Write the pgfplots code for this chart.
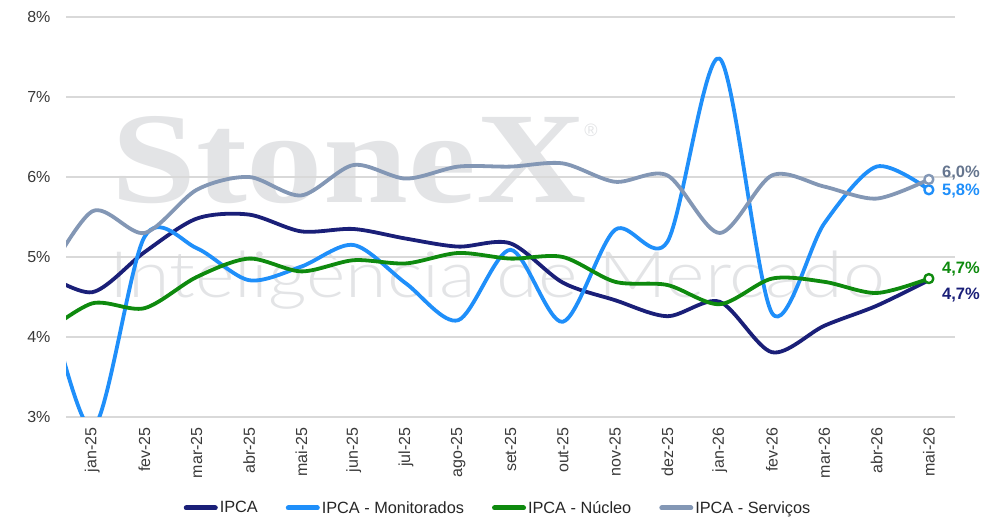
\documentclass[border=0pt]{standalone}
\usepackage{fontspec}
\setmainfont{Liberation Sans}
\newfontfamily\wmserif{Liberation Serif}
\newfontfamily\wmlight{Lato Light}
\usepackage{pgfplots}
\pgfplotsset{compat=1.18}
\definecolor{cIPCA}{HTML}{1A1F78}
\definecolor{cMon}{HTML}{1F8FFA}
\definecolor{cNuc}{HTML}{0E8A0E}
\definecolor{cSer}{HTML}{8397B5}
\definecolor{cSerLbl}{HTML}{66768F}
\definecolor{gridc}{HTML}{D9D9D9}
\definecolor{tickc}{HTML}{3A3A3A}
\definecolor{wm}{HTML}{E3E4E6}
\begin{document}
\begin{tikzpicture}
\useasboundingbox (0pt,0pt) rectangle (989pt,532pt);
\node[anchor=base west, inner sep=0, text=wm, font=\wmserif\bfseries\fontsize{130}{130}\selectfont] at (111pt,329pt) {\scalebox{1.175}[1]{StoneX}};
\node[anchor=center, inner sep=0, text=wm, font=\fontsize{18}{18}\selectfont] at (591pt,402pt) {®};
\node[anchor=base west, inner sep=0, text=wm, font=\wmlight\fontsize{64}{64}\selectfont] at (109pt,234pt) {\scalebox{1.18}[1]{Inteligência de Mercado}};
\begin{axis}[
  at={(66pt,115pt)}, anchor=south west, scale only axis,
  width=889pt, height=400pt,
  xmin=-0.5, xmax=16.5, ymin=3, ymax=8,
  clip mode=individual,
  axis line style={draw=none},
  major tick length=0pt,
  ymajorgrids, grid style={gridc, line width=1.4pt},
  ytick={3,4,5,6,7,8},
  yticklabels={3\%,4\%,5\%,6\%,7\%,8\%},
  yticklabel style={font=\fontsize{16}{18}\selectfont, text=tickc, xshift=-12pt},
  xtick={0,...,16},
  xticklabels={jan-25,fev-25,mar-25,abr-25,mai-25,jun-25,jul-25,ago-25,set-25,out-25,nov-25,dez-25,jan-26,fev-26,mar-26,abr-26,mai-26},
  xticklabel style={font=\fontsize{16}{18}\selectfont, text=tickc, rotate=90, anchor=east},
  xticklabel shift=7pt,
  legend columns=4,
  legend style={at={(0.486,-0.2275)}, anchor=center, draw=none, fill=none,
    font=\fontsize{16.3}{18}\selectfont, text=black!85,
    /tikz/every even column/.append style={column sep=26pt}},
  legend image code/.code={\draw[#1, line width=5pt, line cap=round] (0pt,0pt) -- (29pt,0pt);},
  every axis plot/.append style={line width=3.8pt, smooth, tension=0.5, no marks, line join=round},
]
\addplot[cIPCA] coordinates {(-1,4.83)(0,4.56)(1,5.06)(2,5.48)(3,5.53)(4,5.32)(5,5.35)(6,5.23)(7,5.13)(8,5.17)(9,4.68)(10,4.46)(11,4.26)(12,4.44)(13,3.81)(14,4.14)(15,4.39)(16,4.71)};
\addplot[cMon] coordinates {(-1,4.9)(0,2.85)(1,5.25)(2,5.11)(3,4.71)(4,4.88)(5,5.15)(6,4.67)(7,4.21)(8,5.09)(9,4.19)(10,5.34)(11,5.19)(12,7.48)(13,4.30)(14,5.42)(15,6.13)(16,5.84)};
\addplot[cNuc] coordinates {(-1,4.0)(0,4.42)(1,4.36)(2,4.75)(3,4.98)(4,4.82)(5,4.96)(6,4.92)(7,5.05)(8,4.98)(9,5.00)(10,4.69)(11,4.65)(12,4.41)(13,4.73)(14,4.69)(15,4.55)(16,4.73)};
\addplot[cSer] coordinates {(-1,4.6)(0,5.57)(1,5.30)(2,5.84)(3,6.00)(4,5.77)(5,6.15)(6,5.98)(7,6.13)(8,6.13)(9,6.17)(10,5.94)(11,6.02)(12,5.30)(13,6.02)(14,5.88)(15,5.73)(16,5.97)};
\legend{IPCA, IPCA - Monitorados, IPCA - Núcleo, IPCA - Serviços}
\addplot[forget plot, only marks, mark=*, mark size=4.5pt, mark options={draw=cMon, fill=white, line width=2.4pt}] coordinates {(16,5.84)};
\addplot[forget plot, only marks, mark=*, mark size=4.5pt, mark options={draw=cSer, fill=white, line width=2.4pt}] coordinates {(16,5.97)};
\addplot[forget plot, only marks, mark=*, mark size=4.5pt, mark options={draw=cNuc, fill=white, line width=2.4pt}] coordinates {(16,4.73)};
\node[anchor=west, inner sep=0, text=cSerLbl, font=\bfseries\fontsize{16.5}{18}\selectfont] at (axis cs:16.25,6.05) {6,0\%};
\node[anchor=west, inner sep=0, text=cMon, font=\bfseries\fontsize{16.5}{18}\selectfont] at (axis cs:16.25,5.83) {5,8\%};
\node[anchor=west, inner sep=0, text=cNuc, font=\bfseries\fontsize{16.5}{18}\selectfont] at (axis cs:16.25,4.85) {4,7\%};
\node[anchor=west, inner sep=0, text=cIPCA, font=\bfseries\fontsize{16.5}{18}\selectfont] at (axis cs:16.25,4.52) {4,7\%};
\end{axis}
\end{tikzpicture}
\end{document}
